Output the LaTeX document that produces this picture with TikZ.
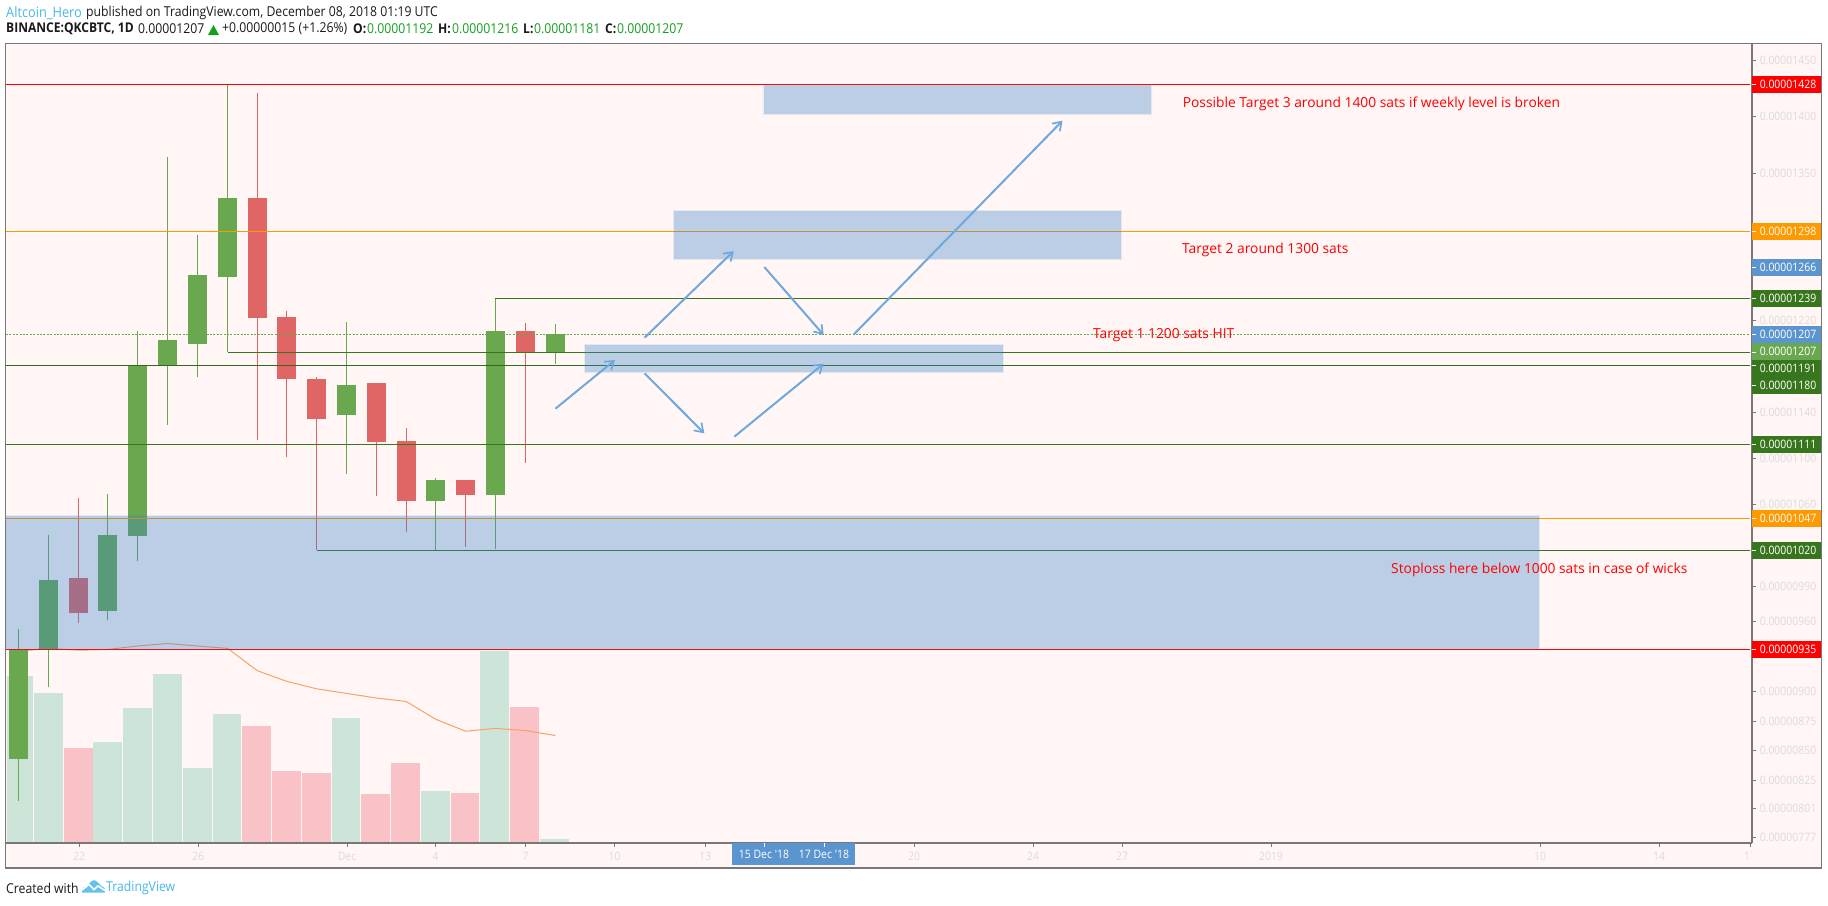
\documentclass[tikz,border=0pt]{standalone}
\usepackage{fontspec}
\setmainfont{Open Sans}
\newfontfamily\narrowfont[FakeStretch=0.9]{Open Sans}
\usetikzlibrary{arrows.meta}
\definecolor{bgp}{HTML}{FFF6F5}
\definecolor{frm}{HTML}{787878}
\definecolor{cg}{HTML}{6AA84F}
\definecolor{cr}{HTML}{E06666}
\definecolor{lvg}{HTML}{38761D}
\definecolor{lvd}{HTML}{2F6A1E}
\definecolor{lvr}{HTML}{FF0000}
\definecolor{lvo}{HTML}{FF9900}
\definecolor{lvb}{HTML}{5B95CF}
\definecolor{zone}{HTML}{3A83C9}
\definecolor{arr}{HTML}{6FA8DC}
\definecolor{volg}{HTML}{CDE4D8}
\definecolor{volr}{HTML}{F9C2C7}
\definecolor{ma}{HTML}{F6A26A}
\definecolor{axt}{HTML}{DCDCDC}
\definecolor{tvb}{HTML}{4AB7E8}
\definecolor{hdg}{HTML}{14A01E}
\definecolor{txk}{HTML}{1A1A1A}
\tikzset{
  lvl/.style={line width=1pt},
  moveline/.style={draw=arr,line width=2pt,-{Straight Barb[length=8pt,width=11pt,line width=1.7pt]}},
  axl/.style={inner sep=0pt,text=axt,font=\narrowfont\fontsize{11.6}{12}\selectfont},
  pxl/.style={inner sep=0pt,text=white,font=\narrowfont\fontsize{11.6}{12}\selectfont},
  note/.style={inner sep=0pt,anchor=west,text=lvr,font=\fontsize{13.8}{15}\selectfont},
  hd/.style={inner sep=0pt,anchor=west,text=txk,font=\narrowfont\fontsize{13.6}{15}\selectfont},
  hdb/.style={hd,font=\narrowfont\bfseries\fontsize{13.4}{15}\selectfont},
  tick/.style={draw=frm,line width=1pt},
}
\newcommand{\cnd}[6]{%
  \draw[#6,line width=1pt] (#1,#2) -- (#1,#5);
  \fill[#6] ({#1-9.5},#3) rectangle ({#1+9.5},#4);}
\newcommand{\pricetag}[4]{%
  \fill[#2] (1752,{#1-8.5}) rectangle (1821,{#1+8.5});
  \node[pxl] (#4) at (1788,#1) {#3};}
\newcommand{\zonerect}[4]{%
  \fill[zone,fill opacity=.34] (#1,#2) rectangle (#3,#4);
  \fill[zone,fill opacity=.12,even odd rule] ({#1-1},{#2-1}) rectangle ({#3+1},{#4+1}) (#1,#2) rectangle (#3,#4);}
\begin{document}
\begin{tikzpicture}[x=1pt,y=-1pt]
\useasboundingbox (0,0) rectangle (1828,905);
\fill[white] (0,0) rectangle (1828,905);
\fill[bgp] (5.5,43.5) rectangle (1821.5,868);
% volume bars
\foreach \i/\c/\t in {0/volg/676,1/volg/693,2/volr/748,3/volg/742,4/volg/708,5/volg/674,6/volg/768,7/volg/714,8/volr/726,9/volr/771,10/volr/773,11/volg/718,12/volr/794,13/volr/763,14/volg/791,15/volr/793,16/volg/651,17/volr/707,18/volg/839}{
  \pgfmathsetmacro{\cx}{18.6+29.76*\i}
  \pgfmathsetmacro{\xl}{max(6.5,\cx-14.4)}
  \fill[\c] (\xl,\t) rectangle ({\cx+14.4},842);
}
% volume average
\draw[ma,line width=1pt,line join=round] (18.6,651.2) -- (48.6,648.4) -- (78.7,650.2) -- (107.5,649.5) -- (137.5,646) -- (167.6,643.5) -- (197.6,646) -- (227.7,648.4) -- (257.3,670.7) -- (286.6,681.3) -- (316.6,688.8) -- (346.6,693.4) -- (376.3,698) -- (406.3,701.5) -- (435.6,719.2) -- (465.6,731.2) -- (495.3,728.4) -- (525.3,730.5) -- (555.3,735.5);
% candles
\cnd{18.6}{629}{649}{759}{800.6}{cg}
\cnd{48.6}{535}{580}{649.5}{686.6}{cg}
\cnd{78.7}{498}{578}{613}{622.6}{cr}
\cnd{107.5}{494}{535}{611}{620}{cg}
\cnd{137.5}{331}{365}{536}{561}{cg}
\cnd{167.6}{157}{340}{365}{424.7}{cg}
\cnd{197.6}{235}{275}{343.7}{376.5}{cg}
\cnd{227.7}{84.5}{198}{276.7}{352}{cg}
\cnd{257.3}{93}{198}{317.7}{439.6}{cr}
\cnd{286.6}{311}{317}{378.7}{456.5}{cr}
\cnd{316.6}{377}{379}{419}{550.4}{cr}
\cnd{346.6}{322}{385}{414.8}{474}{cg}
\cnd{376.3}{383}{383}{442}{495.5}{cr}
\cnd{406.3}{428}{441}{501}{532}{cr}
\cnd{435.6}{478}{480}{501}{550}{cg}
\cnd{465.6}{480}{480}{495}{547}{cr}
\cnd{495.3}{298}{331}{495}{549}{cg}
\cnd{525.3}{323}{331}{352}{463}{cr}
\cnd{555.3}{324}{334}{352}{364}{cg}
% levels
\draw[lvl,lvr] (6,84.5) -- (1750,84.5);
\draw[lvl,lvo] (6,231.5) -- (1750,231.5);
\draw[lvl,lvg] (495.3,298) -- (1750,298);
\draw[cg,line width=1pt,dash pattern=on 2pt off 1.4pt] (6,334) -- (1750,334);
\draw[lvl,lvg] (227.7,352.5) -- (1750,352.5);
\draw[lvl,lvd] (6,365.3) -- (1750,365.3);
\draw[lvl,lvg] (6,444) -- (1750,444);
\draw[lvl,lvo] (6,518.3) -- (1750,518.3);
\draw[lvl,lvg] (316.6,550.3) -- (1750,550.3);
\draw[lvl,lvr] (6,649.3) -- (1750,649.3);
% zones
\zonerect{763.7}{85}{1151}{114}
\zonerect{674}{211}{1121}{259}
\zonerect{585.4}{345}{1002.5}{372}
\zonerect{6}{516}{1539}{649}
% moves
\coordinate (m1a) at (555.4,408.7); \coordinate (m1b) at (615,360);
\coordinate (m2a) at (644.6,337.7); \coordinate (m2b) at (733.7,251);
\coordinate (m3a) at (764.3,267);   \coordinate (m3b) at (823.7,335);
\coordinate (m4a) at (853.7,334.5); \coordinate (m4b) at (1062.5,120.7);
\coordinate (m5a) at (644.6,373.3); \coordinate (m5b) at (704.3,433.3);
\coordinate (m6a) at (734.3,436.7); \coordinate (m6b) at (823.6,363.7);
\foreach \a/\b in {m1a/m1b,m2a/m2b,m3a/m3b,m4a/m4b,m5a/m5b,m6a/m6b}{\draw[moveline] (\a) -- (\b);}
% notes
\node[note] (t3) at (1182.6,103.7) {Possible Target 3 around 1400 sats if weekly level is broken};
\node[note] (t2) at (1182,249.7) {Target 2 around 1300 sats};
\node[note] (t1) at (1093,334.7) {Target 1 1200 sats HIT};
\node[note] (t0) at (1391,569.5) {Stoploss here below 1000 sats in case of wicks};
% frame & axes
\draw[frm,line width=1.4pt] (5.5,43.5) rectangle (1821.5,868);
\draw[frm,line width=1.2pt] (1752,43.5) -- (1752,843);
\draw[frm,line width=1.2pt] (5.5,843) -- (1752,843);
% price axis
\foreach \y/\t [count=\n] in {60/0.00001450,116/0.00001400,173/0.00001350,320/0.00001220,412/0.00001140,458/0.00001100,504/0.00001060,586/0.00000990,621/0.00000960,691/0.00000900,721/0.00000875,750/0.00000850,780/0.00000825,808/0.00000801,837/0.00000777}{
  \draw[tick] (1752,\y) -- (1756,\y);
  \node[axl] (pa\n) at (1788,\y) {\t};
}
\pricetag{84.5}{lvr}{0.00001428}{p1}
\pricetag{231.5}{lvo}{0.00001298}{p2}
\pricetag{267}{lvb}{0.00001266}{p3}
\pricetag{298}{lvg}{0.00001239}{p4}
\pricetag{334}{lvb}{0.00001207}{p5}
\pricetag{351.5}{cg}{0.00001207}{p6}
\pricetag{368.5}{lvg}{0.00001191}{p7}
\pricetag{385.5}{lvg}{0.00001180}{p8}
\pricetag{444.5}{lvg}{0.00001111}{p9}
\pricetag{518.3}{lvo}{0.00001047}{p10}
\pricetag{550.3}{lvg}{0.00001020}{p11}
\pricetag{649.3}{lvr}{0.00000935}{p12}
\foreach \y in {84.5,231.5,267,298,334,352,365.3,385.5,444,518.3,550.3,649.3}{\draw[white,line width=1pt] (1752,\y) -- (1756,\y);}
% time axis
\begin{scope}
\clip (5.5,843) rectangle (1751,868);
\foreach \x/\t [count=\n] in {79/22,198/26,347/Dec,435.6/4,525.7/7,614.7/10,705/13,914/20,1033/24,1122/27,1271/2019,1540/10,1659/14,1750/17}{
  \draw[tick] (\x,843) -- (\x,847);
  \node[axl] (ta\n) at (\x,856.5) {\t};
}
\end{scope}
\fill[lvb] (732,843) rectangle (855,865);
\draw[white,line width=1pt] (764,843) -- (764,847);
\draw[white,line width=1pt] (824,843) -- (824,847);
\node[pxl] (d1) at (764,854.5) {15 Dec '18};
\node[pxl] (d2) at (824,854.5) {17 Dec '18};
% header
\node[hd,text=tvb,font=\narrowfont\fontsize{14.2}{15}\selectfont] (h1) at (6,12.7) {Altcoin\_Hero};
\node[hd] (h2) at (86,12.7) {published on TradingView.com, December 08, 2018 01:19 UTC};
\node[hdb] (h3) at (6,29) {BINANCE:QKCBTC, 1D};
\node[hd] (h4) at (138,29) {0.00001207};
\fill[hdg] (208,35) -- (213.5,25) -- (219,35) -- cycle;
\node[hd] (h5) at (222,29) {+0.00000015 (+1.26\%)};
\node[hdb] (h6) at (353,29) {O:};
\node[hd,text=hdg] (h7) at (367,29) {0.00001192};
\node[hdb] (h8) at (438,29) {H:};
\node[hd,text=hdg] (h9) at (452,29) {0.00001216};
\node[hdb] (h10) at (523,29) {L:};
\node[hd,text=hdg] (h11) at (534,29) {0.00001181};
\node[hdb] (h12) at (605,29) {C:};
\node[hd,text=hdg] (h13) at (617,29) {0.00001207};
% footer
\node[hd] (f1) at (6,888) {Created with};
\fill[tvb!85!white] (82,892.5) .. controls (81,887) and (86,886) .. (88,886) .. controls (90,881) and (94,879) .. (96,881) .. controls (99,882) and (100,885) .. (101,886) .. controls (105,887) and (106,890) .. (105,892.5) -- cycle;
\draw[white,line width=1.6pt] (82,890) -- (89,884.5) -- (94,889.5) -- (98,886) -- (105,890.5);
\node[hd,text=tvb] (f2) at (106,888) {TradingView};
\end{tikzpicture}
\end{document}
